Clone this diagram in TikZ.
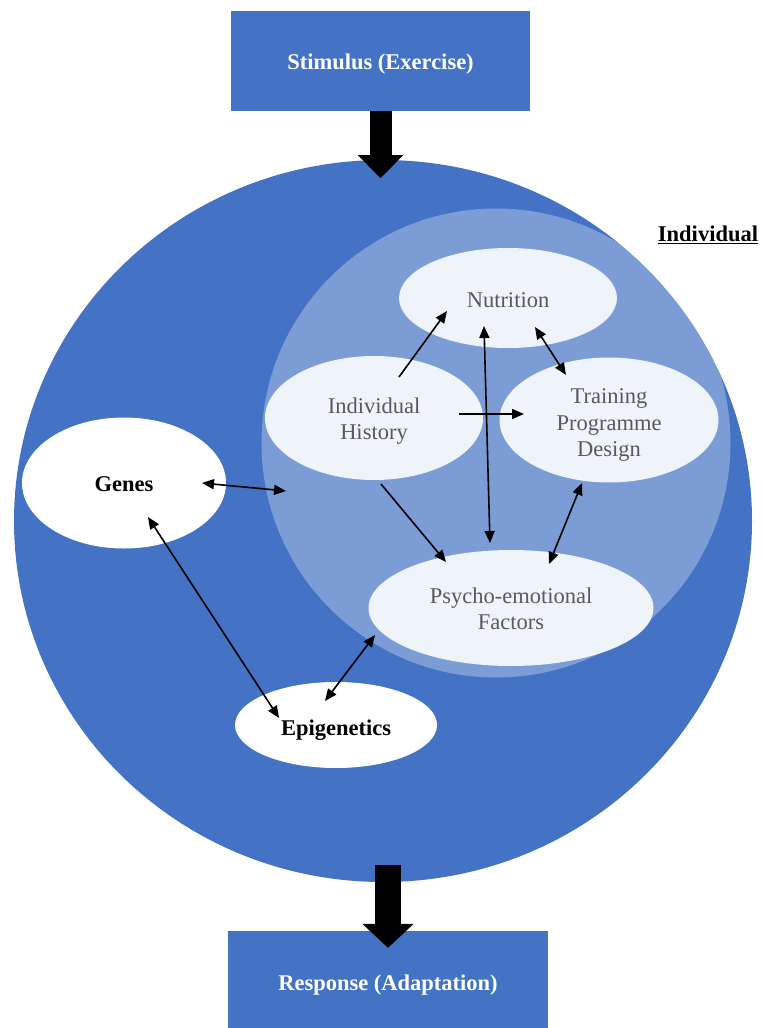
\documentclass[tikz,border=0pt]{standalone}
\usepackage{fontspec}
\setmainfont{Liberation Serif}
\usetikzlibrary{shapes.geometric,arrows.meta,calc}
\definecolor{mblue}{HTML}{4472C4}
\definecolor{paleblue}{HTML}{EFF3FA}
\definecolor{txtgray}{HTML}{595959}
\newcommand\lowtext[2]{\raisebox{-#1}[\height][\depth]{\begin{tabular}{@{}c@{}}#2\end{tabular}}}
\begin{document}
\begin{tikzpicture}[x=1pt,y=-1pt,
  bluebox/.style={rectangle, fill=mblue, draw=none, inner sep=0pt, text=white, font=\fontsize{22.5}{26.5}\selectfont\bfseries},
  paleell/.style={ellipse, fill=paleblue, draw=none, inner sep=0pt, text=txtgray, font=\fontsize{22.5}{26.5}\selectfont},
  whiteell/.style={ellipse, fill=white, draw=none, inner sep=0pt, text=black, font=\fontsize{22.5}{26.5}\selectfont\bfseries},
  conn/.style={line width=1.6pt, -{Triangle[length=12pt,width=10pt]}},
  dconn/.style={line width=1.6pt, {Triangle[length=12pt,width=10pt]}-{Triangle[length=12pt,width=10pt]}}
]
\useasboundingbox (0,0) rectangle (761,1028);

% boxes
\node[bluebox, minimum width=299pt, minimum height=100pt] (stim) at (380.5,61) {\lowtext{3pt}{Stimulus (Exercise)}};
\node[bluebox, minimum width=320pt, minimum height=97pt] (resp) at (388,979.5) {\lowtext{6pt}{Response (Adaptation)}};

% outer circle
\node[ellipse, fill=mblue, draw=none, minimum width=738pt, minimum height=722pt, inner sep=0pt] (outer) at (383,521) {};
% inner circle
\node[circle, fill=white, fill opacity=0.3, draw=none, minimum size=469pt, inner sep=0pt] (inner) at (496,443) {};

% block arrows
\coordinate (stimtip) at ($(stim.south)+(0,67)$);
\draw[line width=22pt, -{Triangle[length=23pt,width=44pt]}] (stim.south) -- (stimtip);
\coordinate (outbase) at ($(resp.north)+(0,-66)$);
\draw[line width=26pt, -{Triangle[length=24pt,width=50pt]}] (outbase) -- ($(resp.north)+(0,17)$);

% label
\node[font=\fontsize{22.5}{26.5}\selectfont\bfseries, inner sep=0pt] (indlab) at (708,235) {\underline{Individual}};

% ellipses
\node[paleell, minimum width=218pt, minimum height=100pt] (nut) at (508,298) {\lowtext{4pt}{Nutrition}};
\node[paleell, minimum width=218pt, minimum height=124pt] (hist) at (374,418) {\lowtext{3pt}{Individual\\History}};
\node[paleell, minimum width=219pt, minimum height=125pt] (train) at (609,420) {\lowtext{5pt}{Training\\Programme\\Design}};
\node[paleell, minimum width=285pt, minimum height=116pt] (psy) at (511,608) {\lowtext{3pt}{Psycho-emotional\\Factors}};
\node[whiteell, minimum width=204pt, minimum height=131pt] (genes) at (124,483) {\lowtext{3pt}{Genes}};
\node[whiteell, minimum width=202pt, minimum height=86pt] (epi) at (336,725) {\lowtext{5pt}{Epigenetics}};

% connectors
\draw[conn] ($(hist)+(25,-41)$) -- ($(nut)+(-61,13)$);
\draw[conn] ($(hist)+(85,-4)$) -- ($(train)+(-85,-6)$);
\draw[dconn] ($(nut)+(-24,28)$) -- ($(psy)+(-21,-65)$);
\draw[dconn] ($(nut)+(27,29)$) -- ($(train)+(-43,-45)$);
\draw[conn] ($(hist)+(7,66)$) -- ($(psy)+(-65,-46)$);
\draw[dconn] ($(train)+(-27,63)$) -- ($(psy)+(38,-44)$);
\draw[dconn] ($(genes)+(78,0)$) -- ($(inner)+(-210,48)$);
\draw[dconn] ($(genes)+(24,34)$) -- ($(epi)+(-57,-7)$);
\draw[dconn] ($(epi)+(-11,-24)$) -- ($(psy)+(-136,27)$);
\end{tikzpicture}
\end{document}
